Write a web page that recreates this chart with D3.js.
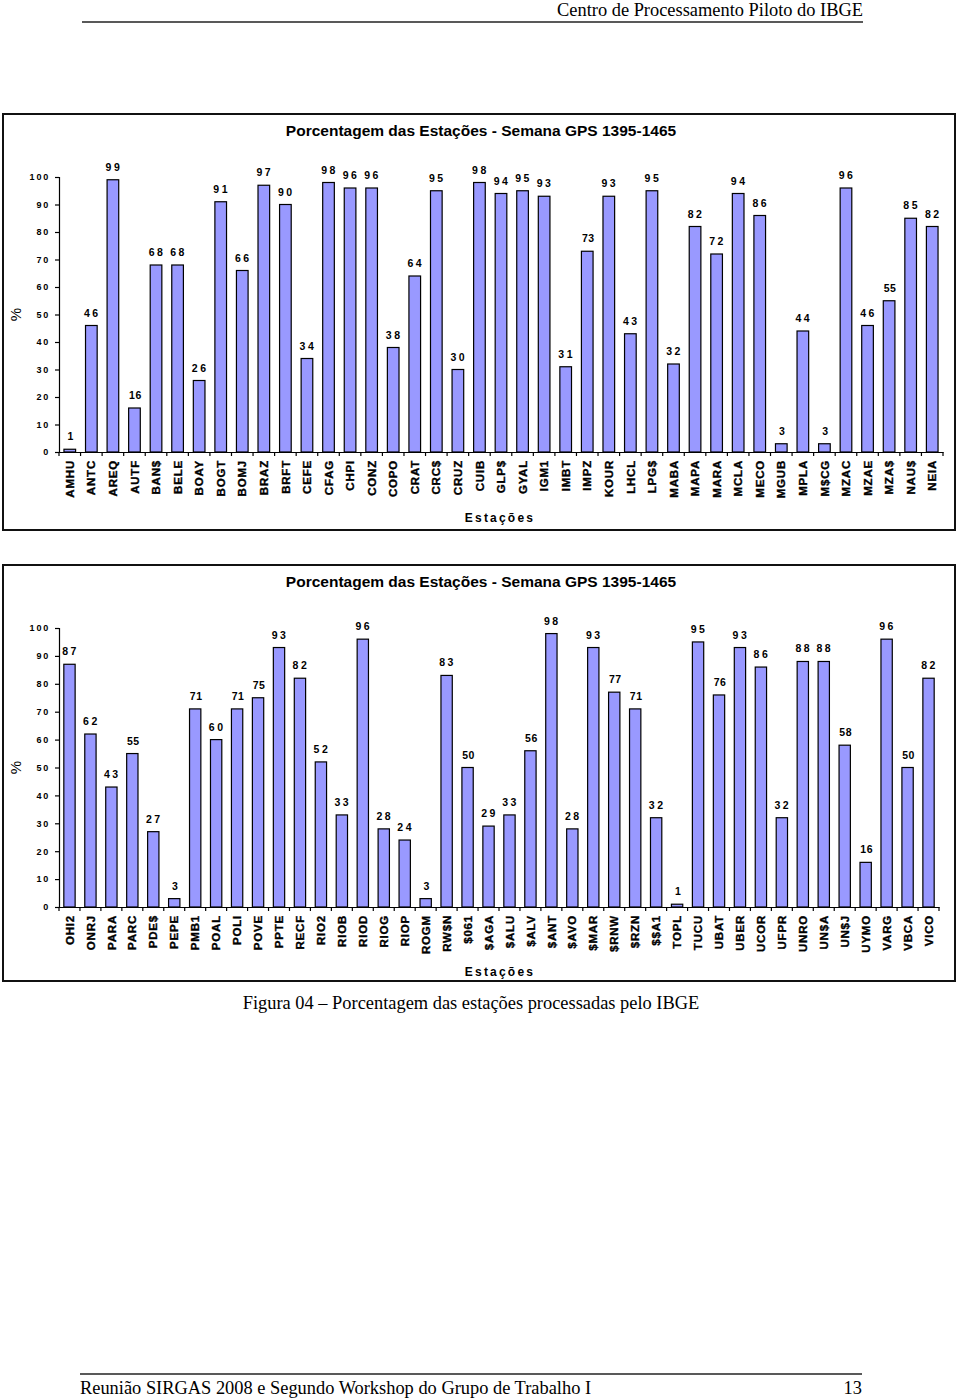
<!DOCTYPE html>
<html><head><meta charset="utf-8">
<script src="https://cdn.jsdelivr.net/npm/d3@7"></script>
<style>body{margin:0;background:#fff}svg{display:block}</style>
</head><body>
<script>
const title = "Porcentagem das Estações - Semana GPS 1395-1465";
const stations1 = ["AMHU","ANTC","AREQ","AUTF","BAN$","BELE","BOAY","BOGT","BOMJ","BRAZ","BRFT","CEFE","CFAG","CHPI","CONZ","COPO","CRAT","CRC$","CRUZ","CUIB","GLP$","GYAL","IGM1","IMBT","IMPZ","KOUR","LHCL","LPG$","MABA","MAPA","MARA","MCLA","MECO","MGUB","MPLA","M$CG","MZAC","MZAE","MZA$","NAU$","NEIA"];
const values1 = [1,46,99,16,68,68,26,91,66,97,90,34,98,96,96,38,64,95,30,98,94,95,93,31,73,93,43,95,32,82,72,94,86,3,44,3,96,46,55,85,82];
const stations2 = ["OHI2","ONRJ","PARA","PARC","PDE$","PEPE","PMB1","POAL","POLI","POVE","PPTE","RECF","RIO2","RIOB","RIOD","RIOG","RIOP","ROGM","RW$N","$061","$AGA","$ALU","$ALV","$ANT","$AVO","$MAR","$RNW","$RZN","$$A1","TOPL","TUCU","UBAT","UBER","UCOR","UFPR","UNRO","UN$A","UN$J","UYMO","VARG","VBCA","VICO"];
const values2 = [87,62,43,55,27,3,71,60,71,75,93,82,52,33,96,28,24,3,83,50,29,33,56,98,28,93,77,71,32,1,95,76,93,86,32,88,88,58,16,96,50,82];
const yTicks = [0,10,20,30,40,50,60,70,80,90,100];

const W = 960, H = 1399;
const svg = d3.select("body").append("svg").attr("width", W).attr("height", H);
const serif = "Liberation Serif, Times New Roman, serif";
const sans = "Liberation Sans, Arial, sans-serif";

// page header / footer
svg.append("text").attr("x", 863).attr("y", 15.5).attr("text-anchor", "end")
  .attr("font-family", serif).attr("font-size", 18.4)
  .text("Centro de Processamento Piloto do IBGE");
svg.append("line").attr("x1", 82).attr("x2", 863).attr("y1", 22).attr("y2", 22).attr("stroke", "#222").attr("stroke-width", 1.5);
svg.append("line").attr("x1", 80).attr("x2", 862).attr("y1", 1374).attr("y2", 1374).attr("stroke", "#222").attr("stroke-width", 1.5);
svg.append("text").attr("x", 80).attr("y", 1394)
  .attr("font-family", serif).attr("font-size", 18.4)
  .text("Reunião SIRGAS 2008 e Segundo Workshop do Grupo de Trabalho I");
svg.append("text").attr("x", 862).attr("y", 1394).attr("text-anchor", "end")
  .attr("font-family", serif).attr("font-size", 18.4)
  .text("13");
svg.append("text").attr("x", 471).attr("y", 1009).attr("text-anchor", "middle")
  .attr("font-family", serif).attr("font-size", 18.4)
  .text("Figura 04 – Porcentagem das estações processadas pelo IBGE");

function chart(top, cats, vals, x0, x1, y0, y100, titleY, xTitleY) {
  const g = svg.append("g");
  g.append("rect").attr("x", 3).attr("y", top).attr("width", 952).attr("height", 416)
    .attr("fill", "none").attr("stroke", "#111").attr("stroke-width", 2);
  g.append("text").attr("x", 481).attr("y", titleY).attr("text-anchor", "middle")
    .attr("font-family", sans).attr("font-weight", "bold").attr("font-size", 15.5)
    .text(title);
  const x = d3.scaleBand().domain(cats).range([x0, x1]).paddingInner(0.46).paddingOuter(0.23);
  const y = d3.scaleLinear().domain([0, 100]).range([y0, y100]);
  // bars
  g.selectAll("rect.bar").data(vals).join("rect").attr("class", "bar")
    .attr("x", (d, i) => x(cats[i])).attr("width", x.bandwidth())
    .attr("y", d => y(d)).attr("height", d => y(0) - y(d))
    .attr("fill", "#9999ff").attr("stroke", "#000").attr("stroke-width", 1.2);
  // value labels
  const narrow = new Set([1,3,16,50,55,56,58,71,73,75,76,77]);
  g.selectAll("text.val").data(vals).join("text").attr("class", "val")
    .attr("x", (d, i) => x(cats[i]) + x.bandwidth() / 2 + 1).attr("y", d => y(d) - 9)
    .attr("text-anchor", "middle").attr("font-family", sans)
    .attr("font-weight", "bold").attr("font-size", 10.5)
    .attr("letter-spacing", d => narrow.has(d) ? "0.5px" : "2.5px")
    .text(d => d);
  // y axis
  const ya = g.append("g").attr("transform", `translate(${x0},0)`)
    .call(d3.axisLeft(y).tickValues(yTicks).tickSize(4).tickFormat(d3.format("d")));
  ya.select(".domain").attr("stroke", "#000").attr("stroke-width", 1.2);
  ya.selectAll(".tick line").attr("stroke", "#000").attr("stroke-width", 1.2);
  ya.selectAll(".tick text").attr("font-family", sans)
    .attr("font-weight", "bold").attr("font-size", 9).attr("letter-spacing", "1.8px").attr("x", -9);
  // x axis
  const xa = g.append("g").attr("transform", `translate(0,${y0})`)
    .call(d3.axisBottom(x).tickSize(0).tickSizeOuter(0));
  xa.select(".domain").attr("stroke", "#000").attr("stroke-width", 1.2);
  xa.selectAll(".tick text").attr("font-family", sans)
    .attr("font-weight", "900").attr("font-size", 11.5).attr("letter-spacing", "0.8px")
    .attr("stroke", "#000").attr("stroke-width", 0.35)
    .attr("transform", "rotate(-90)").attr("text-anchor", "end").attr("x", -8).attr("y", 0).attr("dy", "0.36em");
  // tick marks at band boundaries
  const bounds = d3.range(cats.length + 1).map(i => x0 + i * (x1 - x0) / cats.length);
  g.selectAll("line.xt").data(bounds).join("line").attr("class", "xt")
    .attr("x1", d => d).attr("x2", d => d).attr("y1", y0).attr("y2", y0 + 4)
    .attr("stroke", "#000").attr("stroke-width", 1.2);
  // y title
  g.append("text").attr("transform", `translate(21,${(y0 + y100) / 2}) rotate(-90)`)
    .attr("text-anchor", "middle").attr("font-family", sans)
    .attr("font-size", 15).text("%");
  // x title
  g.append("text").attr("x", 500).attr("y", xTitleY).attr("text-anchor", "middle")
    .attr("font-family", sans).attr("font-weight", "bold")
    .attr("font-size", 12).attr("letter-spacing", "2.2px").text("Estações");
}

chart(114, stations1, values1, 59, 943, 452, 177, 136, 522);
chart(565, stations2, values2, 59, 939, 907, 628, 587, 976);
</script>
</body></html>
